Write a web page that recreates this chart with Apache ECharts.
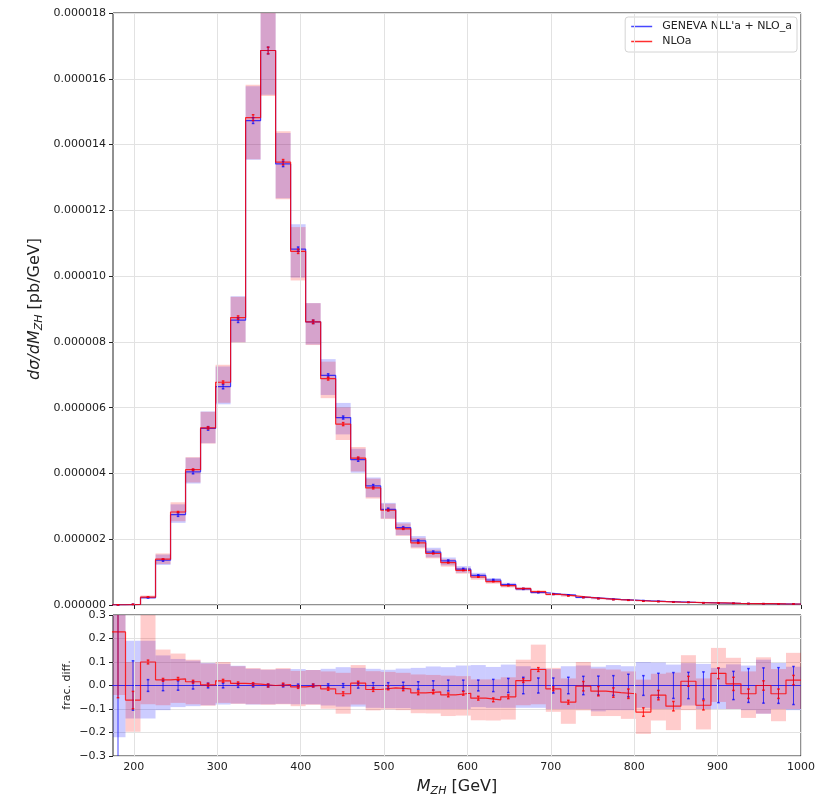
<!DOCTYPE html>
<html>
<head>
<meta charset="utf-8">
<script src="https://cdn.jsdelivr.net/npm/echarts@6/dist/echarts.min.js"></script>
<style>
  html, body { margin: 0; padding: 0; background: #fff; }
  #chart { width: 821px; height: 802px; }
</style>
</head>
<body>
<div id="chart"></div>
<script>
// Bin edges of the M_ZH histogram [GeV]
const binEdges = [172, 190, 208, 226, 244, 262, 280, 298, 316, 334, 352, 370, 388, 406, 424, 442,
  460, 478, 496, 514, 532, 550, 568, 586, 604, 622, 640, 658, 676, 694, 712, 730, 748, 766, 784,
  802, 820, 838, 856, 874, 892, 910, 928, 946, 964, 982, 1000];

// GENEVA NLL'a + NLO_a, dsigma/dM_ZH in units of 1e-6 pb/GeV
const genevaXsec = [0.005, 0.02, 0.22, 1.36, 2.75, 4.05, 5.37, 6.64, 8.66, 14.73, 16.86, 13.41,
  10.82, 8.61, 6.98, 5.70, 4.42, 3.62, 2.91, 2.35, 1.95, 1.61, 1.34, 1.09, 0.90, 0.76, 0.62, 0.49,
  0.38, 0.33, 0.30, 0.23, 0.20, 0.17, 0.15, 0.13, 0.11, 0.095, 0.08, 0.07, 0.06, 0.05, 0.045,
  0.04, 0.035, 0.03];

// NLOa relative to GENEVA (frac. diff.)
const nloFracDiff = [0.228, -0.062, 0.10, 0.024, 0.028, 0.016, 0.003, 0.02, 0.009, 0.006, 0.0,
  0.004, -0.006, 0.0, -0.014, -0.035, 0.01, -0.017, -0.01, -0.014, -0.031, -0.027, -0.04, -0.033,
  -0.054, -0.061, -0.048, 0.021, 0.068, -0.014, -0.071, -0.003, -0.024, -0.03, -0.035, -0.113,
  -0.041, -0.088, 0.018, -0.084, 0.052, 0.007, -0.035, 0.0, -0.035, 0.023];

// Uncertainty bands, relative to GENEVA
const genevaBandLo = [-0.22, -0.14, -0.14, -0.105, -0.092, -0.088, -0.084, -0.081, -0.077, -0.081,
  -0.08, -0.078, -0.08, -0.08, -0.085, -0.09, -0.09, -0.095, -0.096, -0.096, -0.1, -0.1, -0.1, -0.1,
  -0.092, -0.095, -0.095, -0.095, -0.095, -0.1, -0.1, -0.1, -0.11, -0.105, -0.105, -0.095, -0.1,
  -0.1, -0.085, -0.1, -0.1, -0.1, -0.105, -0.12, -0.1, -0.105];
const genevaBandHi = [0.5, 0.19, 0.19, 0.128, 0.113, 0.106, 0.096, 0.092, 0.084, 0.071, 0.067,
  0.07, 0.07, 0.066, 0.071, 0.078, 0.075, 0.071, 0.067, 0.072, 0.075, 0.081, 0.078, 0.085, 0.087,
  0.079, 0.089, 0.082, 0.075, 0.07, 0.082, 0.085, 0.08, 0.087, 0.082, 0.10, 0.098, 0.089, 0.095,
  0.092, 0.075, 0.09, 0.085, 0.11, 0.096, 0.08];
const nloBandLo = [-0.04, -0.197, -0.08, -0.084, -0.074, -0.08, -0.086, -0.074, -0.078, -0.08,
  -0.082, -0.08, -0.088, -0.082, -0.099, -0.12, -0.081, -0.106, -0.102, -0.105, -0.118, -0.119,
  -0.13, -0.128, -0.148, -0.149, -0.145, -0.084, -0.08, -0.112, -0.163, -0.106, -0.13, -0.13,
  -0.142, -0.206, -0.149, -0.19, -0.105, -0.187, -0.07, -0.10, -0.138, -0.12, -0.152, -0.10];
const nloBandHi = [0.5, 0.10, 0.32, 0.153, 0.136, 0.11, 0.094, 0.10, 0.082, 0.074, 0.069, 0.074,
  0.062, 0.066, 0.06, 0.054, 0.087, 0.061, 0.058, 0.054, 0.047, 0.045, 0.042, 0.04, 0.026, 0.026,
  0.035, 0.11, 0.174, 0.075, 0.03, 0.10, 0.072, 0.068, 0.06, 0.025, 0.05, 0.055, 0.129, 0.03, 0.16,
  0.118, 0.06, 0.12, 0.07, 0.139];

// Statistical errors (half widths, relative to GENEVA)
const genevaStatErr = [0.6, 0.105, 0.025, 0.022, 0.02, 0.015, 0.01, 0.01, 0.008, 0.006, 0.006,
  0.006, 0.006, 0.006, 0.007, 0.008, 0.011, 0.012, 0.012, 0.014, 0.016, 0.02, 0.023, 0.023, 0.023,
  0.026, 0.03, 0.035, 0.032, 0.032, 0.035, 0.039, 0.04, 0.042, 0.048, 0.042, 0.052, 0.055, 0.056,
  0.058, 0.073, 0.06, 0.072, 0.075, 0.076, 0.081];
const nloStatErr = [0.28, 0.037, 0.008, 0.006, 0.006, 0.006, 0.006, 0.006, 0.006, 0.006, 0.006,
  0.006, 0.006, 0.006, 0.006, 0.008, 0.008, 0.008, 0.008, 0.008, 0.008, 0.008, 0.008, 0.008, 0.008,
  0.008, 0.008, 0.008, 0.008, 0.008, 0.008, 0.02, 0.02, 0.02, 0.02, 0.018, 0.02, 0.02, 0.021, 0.02,
  0.023, 0.028, 0.02, 0.02, 0.02, 0.02];

const xTicks = [200, 300, 400, 500, 600, 700, 800, 900, 1000];

const NAME_GENEVA = "GENEVA NLL'a + NLO_a";
const NAME_NLO = 'NLOa';
const BLUE = 'rgba(0,0,255,0.72)';
const RED = 'rgba(255,0,0,0.82)';
const BLUE_FILL = 'rgba(0,0,255,0.2)';
const RED_FILL = 'rgba(255,0,0,0.2)';
const FONT = 'DejaVu Sans';
const GRID_COLOR = '#e2e2e2';
const INK = '#222';

const nBins = genevaXsec.length;
const centers = genevaXsec.map((_, i) => (binEdges[i] + binEdges[i + 1]) / 2);
const nloXsec = genevaXsec.map((g, i) => g * (1 + nloFracDiff[i]));

// step-line points: value of bin i held from edge i to edge i+1
function stepData(vals) {
  return binEdges.map((e, i) => [e, vals[Math.min(i, nBins - 1)]]);
}
function bandData(lo, hi) {
  return genevaXsec.map((_, i) => [binEdges[i], binEdges[i + 1], lo[i], hi[i]]);
}
function errData(mid, half) {
  return centers.map((c, i) => [c, mid[i] - half[i], mid[i] + half[i]]);
}

function bandItem(fill) {
  return function (params, api) {
    const p0 = api.coord([api.value(0), api.value(3)]);
    const p1 = api.coord([api.value(1), api.value(2)]);
    const cs = params.coordSys;
    const r = echarts.graphic.clipRectByRect(
      { x: p0[0], y: p0[1], width: p1[0] - p0[0], height: p1[1] - p0[1] },
      { x: cs.x, y: cs.y, width: cs.width, height: cs.height });
    return r ? { type: 'rect', shape: r, style: { fill: fill } } : null;
  };
}
function errItem(stroke) {
  return function (params, api) {
    const a = api.coord([api.value(0), api.value(2)]);
    const b = api.coord([api.value(0), api.value(1)]);
    const cs = params.coordSys;
    const top = Math.max(a[1], cs.y), bot = Math.min(b[1], cs.y + cs.height);
    const x = a[0];
    const kids = [];
    if (bot > top) {
      kids.push({ type: 'line', shape: { x1: x, y1: top, x2: x, y2: bot },
        style: { stroke: stroke, lineWidth: 1 } });
    }
    [a[1], b[1]].forEach(y => {
      if (y >= cs.y && y <= cs.y + cs.height) {
        kids.push({ type: 'line', shape: { x1: x - 1.3, y1: y, x2: x + 1.3, y2: y },
          style: { stroke: stroke, lineWidth: 1.5 } });
      }
    });
    return { type: 'group', children: kids };
  };
}

const vGridLines = {
  silent: true, symbol: 'none', label: { show: false }, animation: false,
  lineStyle: { color: GRID_COLOR, width: 1, type: 'solid' },
  data: xTicks.map(v => ({ xAxis: v }))
};

// top panel values
const genevaBandTop = bandData(genevaXsec.map((g, i) => g * (1 + genevaBandLo[i])),
                               genevaXsec.map((g, i) => g * (1 + genevaBandHi[i])));
const nloBandTop = bandData(genevaXsec.map((g, i) => g * (1 + nloBandLo[i])),
                            genevaXsec.map((g, i) => g * (1 + nloBandHi[i])));
const genevaErrTop = errData(genevaXsec, genevaXsec.map((g, i) => g * genevaStatErr[i]));
const nloErrTop = errData(nloXsec, genevaXsec.map((g, i) => g * nloStatErr[i]));

// ratio panel values
const zeros = genevaXsec.map(() => 0);

const chart = echarts.init(document.getElementById('chart'), null, { renderer: 'canvas' });

const axisCommonX = {
  type: 'value', min: 175, max: 1000,
  axisLine: { show: false },
  axisTick: { show: true, customValues: xTicks, length: 4, lineStyle: { color: INK, width: 1 } },
  splitLine: { show: false }
};

chart.setOption({
  animation: false,
  backgroundColor: '#fff',
  grid: [
    { left: 113, right: 20, top: 13, height: 592, show: true, borderColor: INK, borderWidth: 1,
      backgroundColor: 'transparent' },
    { left: 113, right: 20, top: 615, height: 141, show: true, borderColor: INK, borderWidth: 1,
      backgroundColor: 'transparent' }
  ],
  xAxis: [
    Object.assign({ gridIndex: 0, axisLabel: { show: false } }, axisCommonX),
    Object.assign({ gridIndex: 1, axisLabel: { show: true, customValues: xTicks, margin: 6,
      fontSize: 11, fontFamily: FONT, color: INK, formatter: v => String(Math.round(v)) } }, axisCommonX)
  ],
  yAxis: [
    { gridIndex: 0, type: 'value', min: 0, max: 18, interval: 2,
      axisLine: { show: false },
      axisTick: { show: true, length: 4, lineStyle: { color: INK } },
      axisLabel: { fontSize: 11, fontFamily: FONT, color: INK, margin: 7,
        formatter: v => (v * 1e-6).toFixed(6) },
      splitLine: { show: true, lineStyle: { color: GRID_COLOR, width: 1 } } },
    { gridIndex: 1, type: 'value', min: -0.3, max: 0.3, interval: 0.1,
      axisLine: { show: false },
      axisTick: { show: true, length: 4, lineStyle: { color: INK } },
      axisLabel: { fontSize: 11, fontFamily: FONT, color: INK, margin: 7,
        formatter: v => Math.abs(v) < 1e-9 ? '0.0' : (v < 0 ? '\u2212' : '') + Math.abs(v).toFixed(1) },
      splitLine: { show: true, lineStyle: { color: GRID_COLOR, width: 1 } } }
  ],
  legend: {
    data: [{ name: NAME_GENEVA, icon: 'rect' }, { name: NAME_NLO, icon: 'rect' }],
    orient: 'vertical', right: 24, top: 17,
    backgroundColor: 'rgba(255,255,255,0.85)', borderColor: '#d4d4d4', borderWidth: 1,
    borderRadius: 3, padding: [4, 5, 5, 6], itemGap: 4,
    itemWidth: 21, itemHeight: 1.5, icon: 'rect',
    itemStyle: { borderWidth: 0 },
    textStyle: { fontSize: 11, fontFamily: FONT, color: INK, padding: [0, 0, 0, 5] }
  },
  graphic: [
    { type: 'text', x: 35, y: 309, rotation: Math.PI / 2,
      style: { text: '{it|d\u03c3/dM}{sub|ZH}{n| [pb/GeV]}', align: 'center', verticalAlign: 'middle',
        fill: INK, font: '16px "DejaVu Sans"',
        rich: {
          it: { fontSize: 16, fontStyle: 'italic', fontFamily: FONT, fill: INK },
          sub: { fontSize: 11, fontStyle: 'italic', fontFamily: FONT, fill: INK, padding: [8, 0, 0, 0] },
          n: { fontSize: 16, fontFamily: FONT, fill: INK }
        } } },
    { type: 'text', x: 67, y: 685, rotation: Math.PI / 2,
      style: { text: 'frac. diff.', align: 'center', verticalAlign: 'middle',
        fill: INK, fontSize: 11, fontFamily: FONT } },
    { type: 'text', x: 457, y: 787,
      style: { text: '{it|M}{sub|ZH}{n| [GeV]}', align: 'center', verticalAlign: 'middle',
        fill: INK, font: '16px "DejaVu Sans"',
        rich: {
          it: { fontSize: 16, fontStyle: 'italic', fontFamily: FONT, fill: INK },
          sub: { fontSize: 11, fontStyle: 'italic', fontFamily: FONT, fill: INK, padding: [8, 0, 0, 0] },
          n: { fontSize: 16, fontFamily: FONT, fill: INK }
        } } }
  ],
  series: [
    // ---- top panel ----
    { name: 'GENEVA band', type: 'custom', xAxisIndex: 0, yAxisIndex: 0, silent: true,
      renderItem: bandItem(BLUE_FILL), data: genevaBandTop, encode: { x: [0, 1], y: [2, 3] },
      markLine: vGridLines, z: 1 },
    { name: 'NLOa band', type: 'custom', xAxisIndex: 0, yAxisIndex: 0, silent: true,
      renderItem: bandItem(RED_FILL), data: nloBandTop, encode: { x: [0, 1], y: [2, 3] }, z: 1 },
    { name: NAME_GENEVA, type: 'line', xAxisIndex: 0, yAxisIndex: 0, step: 'end', showSymbol: false,
      symbol: 'none', data: stepData(genevaXsec), color: BLUE, itemStyle: { color: BLUE },
      lineStyle: { color: BLUE, width: 1.2 }, z: 3 },
    { name: NAME_NLO, type: 'line', xAxisIndex: 0, yAxisIndex: 0, step: 'end', showSymbol: false,
      symbol: 'none', data: stepData(nloXsec), color: RED, itemStyle: { color: RED },
      lineStyle: { color: RED, width: 1.2 }, z: 4 },
    { name: 'GENEVA stat', type: 'custom', xAxisIndex: 0, yAxisIndex: 0, silent: true,
      renderItem: errItem(BLUE), data: genevaErrTop, encode: { x: 0, y: [1, 2] }, z: 5 },
    { name: 'NLOa stat', type: 'custom', xAxisIndex: 0, yAxisIndex: 0, silent: true,
      renderItem: errItem(RED), data: nloErrTop, encode: { x: 0, y: [1, 2] }, z: 5 },

    // ---- ratio panel ----
    { name: 'GENEVA band r', type: 'custom', xAxisIndex: 1, yAxisIndex: 1, silent: true,
      renderItem: bandItem(BLUE_FILL), data: bandData(genevaBandLo, genevaBandHi),
      encode: { x: [0, 1], y: [2, 3] }, markLine: vGridLines, z: 1 },
    { name: 'NLOa band r', type: 'custom', xAxisIndex: 1, yAxisIndex: 1, silent: true,
      renderItem: bandItem(RED_FILL), data: bandData(nloBandLo, nloBandHi),
      encode: { x: [0, 1], y: [2, 3] }, z: 1 },
    { name: 'GENEVA ratio', type: 'line', xAxisIndex: 1, yAxisIndex: 1, step: 'end', showSymbol: false,
      symbol: 'none', data: stepData(zeros), lineStyle: { color: BLUE, width: 1.2 }, z: 3 },
    { name: 'NLOa ratio', type: 'line', xAxisIndex: 1, yAxisIndex: 1, step: 'end', showSymbol: false,
      symbol: 'none', data: stepData(nloFracDiff), lineStyle: { color: RED, width: 1.2 }, z: 4 },
    { name: 'GENEVA stat r', type: 'custom', xAxisIndex: 1, yAxisIndex: 1, silent: true,
      renderItem: errItem(BLUE), data: errData(zeros, genevaStatErr), encode: { x: 0, y: [1, 2] }, z: 5 },
    { name: 'NLOa stat r', type: 'custom', xAxisIndex: 1, yAxisIndex: 1, silent: true,
      renderItem: errItem(RED), data: errData(nloFracDiff, nloStatErr), encode: { x: 0, y: [1, 2] }, z: 5 }
  ]
});
</script>
</body>
</html>
